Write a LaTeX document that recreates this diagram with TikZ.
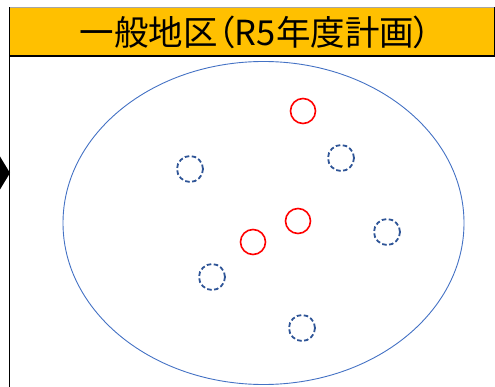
\documentclass[tikz,border=0pt]{standalone}
\usepackage{fontspec}
\usetikzlibrary{shapes.geometric}
\newfontfamily\jpfont[RawFeature=+palt]{Noto Sans CJK JP}
\definecolor{hdr}{HTML}{FFC000}
\definecolor{ellblue}{HTML}{4472C4}
\definecolor{dashblue}{HTML}{2F5597}
\definecolor{mred}{HTML}{FF0000}
\tikzset{
  done/.style={circle, draw=mred, line width=1.6pt, minimum size=25pt, inner sep=0pt},
  plan/.style={circle, draw=dashblue, line width=1.8pt, dash pattern=on 4.5pt off 2.5pt, minimum size=26pt, inner sep=0pt},
}
\begin{document}
\begin{tikzpicture}[x=1pt,y=-1pt]
\useasboundingbox (0,0) rectangle (495,387);
\clip (0,0) rectangle (495,387);
% header
\fill[hdr] (9.5,8) rectangle (500,56);
\draw[gray!70, line width=1pt] (9.5,7.5) -- (500,7.5);
\draw[black, line width=1.3pt] (9.5,56) -- (500,56);
\draw[black, line width=1.3pt] (9.5,7.5) -- (9.5,390);
\draw[black, line width=0.8pt] (494.5,7.5) -- (494.5,56);
\node[font=\jpfont\fontsize{34.5}{34.5}\selectfont, inner sep=0pt] (title) at (255.5,32) {一般地区（R5年度計画）};
% left arrowhead
\fill[black] (-10,140) -- (10,173) -- (-10,206) -- cycle;
% ellipse
\node[ellipse, draw=ellblue, line width=0.9pt, minimum width=401pt, minimum height=323pt, inner sep=0pt] (area) at (263.5,223) {};
% circles
\node[done] (r1) at (303,111) {};
\node[done] (r2) at (298,221) {};
\node[done] (r3) at (253,242) {};
\node[plan] (b1) at (190,169) {};
\node[plan] (b2) at (341,158) {};
\node[plan] (b3) at (387,232) {};
\node[plan] (b4) at (212,277) {};
\node[plan] (b5) at (302,328) {};
\end{tikzpicture}
\end{document}
